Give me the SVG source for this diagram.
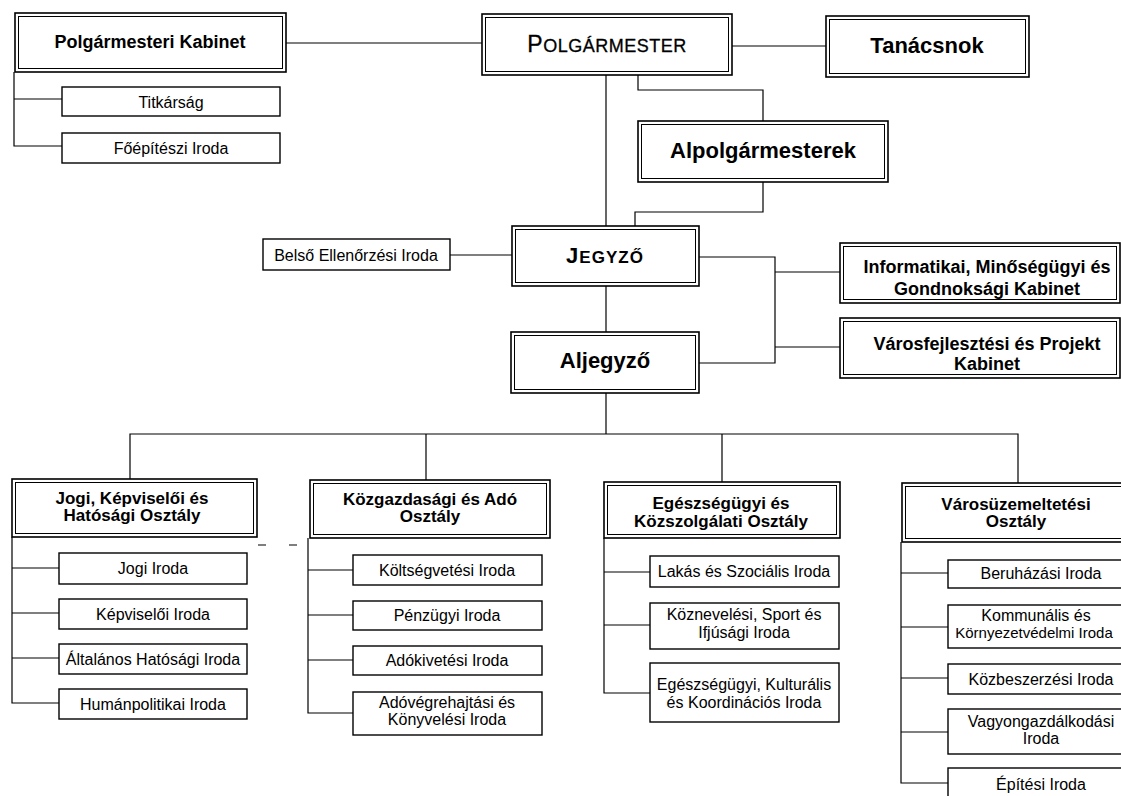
<svg xmlns="http://www.w3.org/2000/svg" width="1121" height="796" viewBox="0 0 1121 796">
<style>
.outer{fill:#fff;stroke:#000;stroke-width:1.6}
.inner{fill:none;stroke:#000;stroke-width:1}
.sub{fill:#fff;stroke:#000;stroke-width:1.4}
.conn{fill:none;stroke:#000;stroke-width:1.2}
text{font-family:"Liberation Sans",Arial,sans-serif;fill:#000;text-anchor:middle}
.r{font-size:16px}
.h{font-size:18px;font-weight:bold}
.c{font-size:17px;font-weight:bold}
.H{font-size:22px;font-weight:bold}
</style>
<rect x="0" y="0" width="1121" height="796" fill="#fff"/>
<g id="connectors">
<path class="conn" d="M286,43H482"/>
<path class="conn" d="M14,72V146H62M14,99H62"/>
<path class="conn" d="M732,46H826"/>
<path class="conn" d="M606,75V226"/>
<path class="conn" d="M638,75V90H763V121"/>
<path class="conn" d="M763,182V212H635V226"/>
<path class="conn" d="M450,255H512"/>
<path class="conn" d="M606,286V332"/>
<path class="conn" d="M699,257H775V363H699M775,272H840M775,347H840"/>
<path class="conn" d="M606,393V434"/>
<path class="conn" d="M130,479V434H1018V483M426,434V480M722,434V482"/>
<path class="conn" d="M12,537V703H59M12,568H59M12,613H59M12,658H59"/>
<path class="conn" d="M308,538V713H353M308,570H353M308,615H353M308,660H353"/>
<path class="conn" d="M604,538V693H650M604,572H650M604,625H650"/>
<path class="conn" d="M901,542V783H948M901,573H948M901,627H948M901,678H948M901,732H948"/>
<path class="conn" stroke-width="2.4" d="M258,545H266M289,545H297"/>
</g>
<g id="polgarmesteri-kabinet">
<rect class="outer" x="15" y="13" width="271" height="59"/><rect class="inner" x="18.5" y="16.5" width="264" height="52"/>
<text class="h" x="150" y="48">Polgármesteri Kabinet</text>
</g>
<g id="titkarsag"><rect class="sub" x="62" y="87" width="218" height="29"/><text class="r" x="171" y="108">Titkárság</text></g>
<g id="foepiteszi"><rect class="sub" x="62" y="133" width="218" height="30"/><text class="r" x="171" y="154">Főépítészi Iroda</text></g>
<g id="polgarmester">
<rect class="outer" x="482" y="14" width="250" height="61"/><rect class="inner" x="485.5" y="17.5" width="243" height="54"/>
<text x="607" y="52" style="font-size:18px;letter-spacing:0.5px;stroke:#000;stroke-width:0.3"><tspan style="font-size:23px">P</tspan>OLGÁRMESTER</text>
</g>
<g id="tanacsnok">
<rect class="outer" x="826" y="16" width="203" height="61"/><rect class="inner" x="829.5" y="19.5" width="196" height="54"/>
<text class="H" x="927" y="53">Tanácsnok</text>
</g>
<g id="alpolgarmesterek">
<rect class="outer" x="638" y="121" width="250" height="61"/><rect class="inner" x="641.5" y="124.5" width="243" height="54"/>
<text class="H" x="763" y="158">Alpolgármesterek</text>
</g>
<g id="belso"><rect class="sub" x="263" y="239" width="187" height="31"/><text class="r" x="356" y="261">Belső Ellenőrzési Iroda</text></g>
<g id="jegyzo">
<rect class="outer" x="512" y="226" width="187" height="60"/><rect class="inner" x="515.5" y="229.5" width="180" height="53"/>
<text x="605" y="263" style="font-size:17px;font-weight:bold;letter-spacing:1px"><tspan style="font-size:22px">J</tspan>EGYZŐ</text>
</g>
<g id="aljegyzo">
<rect class="outer" x="511" y="332" width="188" height="61"/><rect class="inner" x="514.5" y="335.5" width="181" height="54"/>
<text class="H" x="605" y="368">Aljegyző</text>
</g>
<g id="informatikai">
<rect class="outer" x="840" y="243" width="280" height="60"/><rect class="inner" x="843.5" y="246.5" width="273" height="53"/>
<text class="h" x="987" y="273">Informatikai, Minőségügyi és</text>
<text class="h" x="987" y="295">Gondnoksági Kabinet</text>
</g>
<g id="varosfejlesztesi">
<rect class="outer" x="840" y="318" width="280" height="60"/><rect class="inner" x="843.5" y="321.5" width="273" height="53"/>
<text class="h" x="987" y="350">Városfejlesztési és Projekt</text>
<text class="h" x="987" y="370">Kabinet</text>
</g>
<g id="jogi-osztaly">
<rect class="outer" x="12" y="479" width="245" height="58"/><rect class="inner" x="15.5" y="482.5" width="238" height="51"/>
<text class="c" x="132" y="504">Jogi, Képviselői és</text>
<text class="c" x="132" y="521">Hatósági Osztály</text>
</g>
<g id="jogi-iroda"><rect class="sub" x="59" y="553" width="188" height="31"/><text class="r" x="153" y="574">Jogi Iroda</text></g>
<g id="kepviseloi-iroda"><rect class="sub" x="59" y="599" width="188" height="30"/><text class="r" x="153" y="620">Képviselői Iroda</text></g>
<g id="altalanos-iroda"><rect class="sub" x="59" y="644" width="188" height="30"/><text class="r" x="153" y="665">Általános Hatósági Iroda</text></g>
<g id="humanpolitikai-iroda"><rect class="sub" x="59" y="689" width="188" height="30"/><text class="r" x="153" y="710">Humánpolitikai Iroda</text></g>
<g id="kozgazdasagi-osztaly">
<rect class="outer" x="310" y="480" width="240" height="58"/><rect class="inner" x="313.5" y="483.5" width="233" height="51"/>
<text class="c" x="430" y="505">Közgazdasági és Adó</text>
<text class="c" x="430" y="522">Osztály</text>
</g>
<g id="koltsegvetesi-iroda"><rect class="sub" x="353" y="555" width="189" height="30"/><text class="r" x="447" y="576">Költségvetési Iroda</text></g>
<g id="penzugyi-iroda"><rect class="sub" x="353" y="601" width="189" height="29"/><text class="r" x="447" y="621">Pénzügyi Iroda</text></g>
<g id="adokivetesi-iroda"><rect class="sub" x="353" y="646" width="189" height="29"/><text class="r" x="447" y="666">Adókivetési Iroda</text></g>
<g id="adovegrehajtasi-iroda"><rect class="sub" x="353" y="692" width="189" height="43"/><text class="r" x="447" y="708">Adóvégrehajtási és</text><text class="r" x="447" y="725">Könyvelési Iroda</text></g>
<g id="egeszsegugyi-osztaly">
<rect class="outer" x="604" y="482" width="236" height="56"/><rect class="inner" x="607.5" y="485.5" width="229" height="49"/>
<text class="c" x="721" y="509">Egészségügyi és</text>
<text class="c" x="721" y="527">Közszolgálati Osztály</text>
</g>
<g id="lakas-iroda"><rect class="sub" x="650" y="556" width="189" height="31"/><text class="r" x="744" y="577">Lakás és Szociális Iroda</text></g>
<g id="koznevelesi-iroda"><rect class="sub" x="650" y="603" width="189" height="46"/><text class="r" x="744" y="620">Köznevelési, Sport és</text><text class="r" x="744" y="638">Ifjúsági Iroda</text></g>
<g id="kulturalis-iroda"><rect class="sub" x="650" y="663" width="189" height="59"/><text class="r" x="744" y="690">Egészségügyi, Kulturális</text><text class="r" x="744" y="708">és Koordinációs Iroda</text></g>
<g id="varosuzemeltetesi-osztaly">
<rect class="outer" x="902" y="483" width="230" height="59"/><rect class="inner" x="905.5" y="486.5" width="223" height="52"/>
<text class="c" x="1016" y="510">Városüzemeltetési</text>
<text class="c" x="1016" y="527">Osztály</text>
</g>
<g id="beruhazasi-iroda"><rect class="sub" x="948" y="560" width="190" height="28"/><text class="r" x="1041" y="579">Beruházási Iroda</text></g>
<g id="kommunalis-iroda"><rect class="sub" x="948" y="605" width="190" height="43"/><text class="r" x="1036" y="621">Kommunális és</text><text class="r" x="1034" y="638" style="font-size:15px">Környezetvédelmi Iroda</text></g>
<g id="kozbeszerzesi-iroda"><rect class="sub" x="948" y="664" width="190" height="30"/><text class="r" x="1041" y="685">Közbeszerzési Iroda</text></g>
<g id="vagyongazdalkodasi-iroda"><rect class="sub" x="948" y="709" width="190" height="45"/><text class="r" x="1041" y="727">Vagyongazdálkodási</text><text class="r" x="1041" y="744">Iroda</text></g>
<g id="epitesi-iroda"><rect class="sub" x="948" y="768" width="190" height="40"/><text class="r" x="1041" y="790">Építési Iroda</text></g>
</svg>
